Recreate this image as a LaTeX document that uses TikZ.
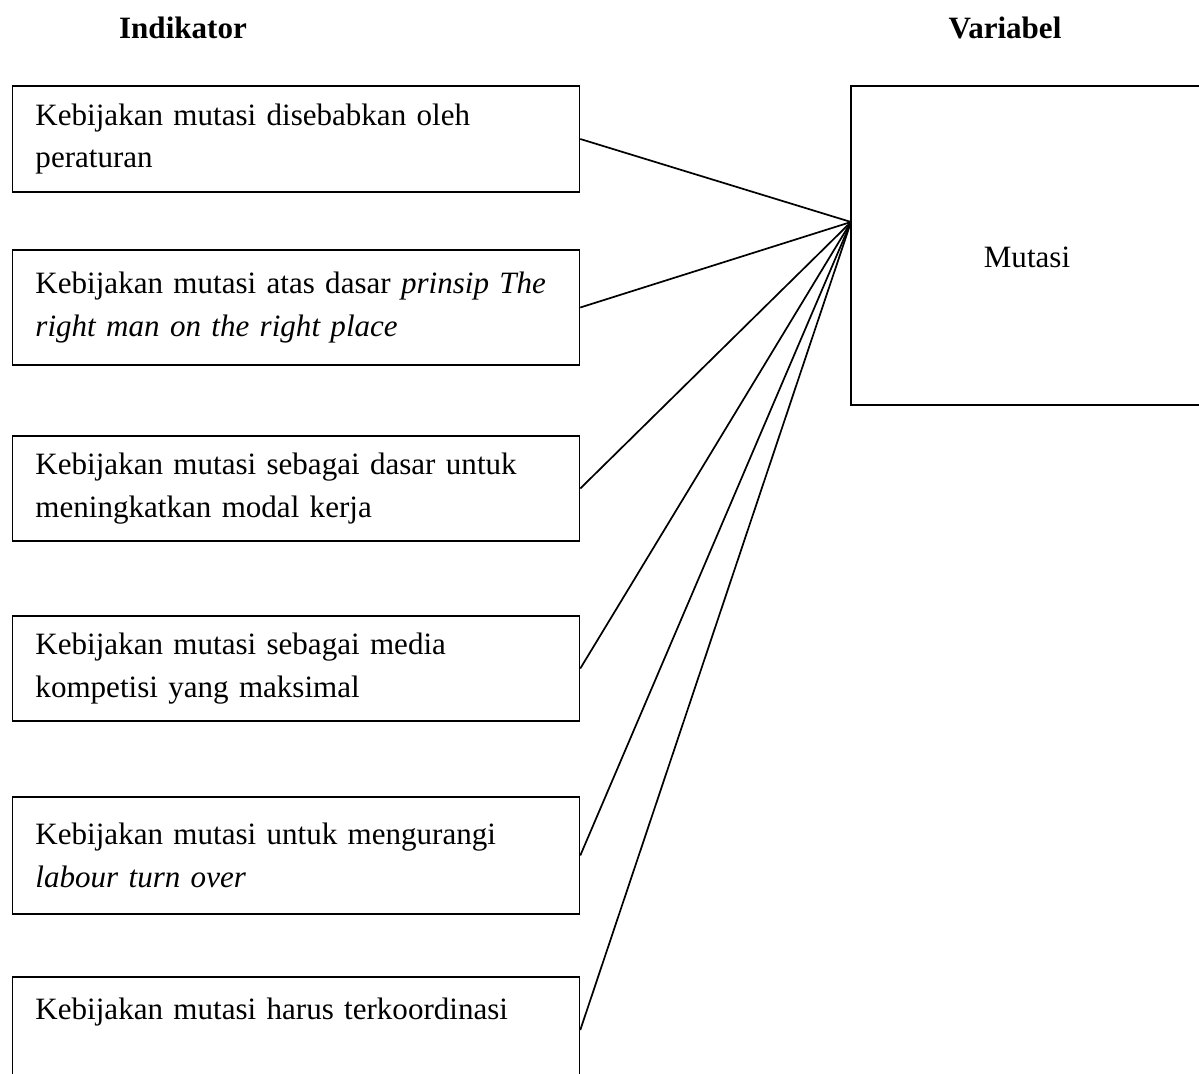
\documentclass[tikz,border=0pt]{standalone}
\usepackage{fontspec}
\setmainfont{Liberation Serif}
\usetikzlibrary{positioning}

\begin{document}
\begin{tikzpicture}[x=0.38pt, y=-0.38pt, line width=0.65pt,
    font=\fontsize{11.8pt}{16.3pt}\selectfont,
    ind/.style = {draw, text width=198pt, inner xsep=8.7pt, align=left},
    head/.style = {font=\fontsize{11.8pt}{16.3pt}\selectfont\bfseries}]
    \useasboundingbox (0,0) rectangle (1199,1073);
			\node[head] (h1) at (183,28) {Indikator};
			\node[head] (h2) at (1005,28) {Variabel};
			\node[ind, minimum height=40.3pt] (i1) at (296,139) {Kebijakan mutasi disebabkan oleh\\ peraturan};
			\node[ind, minimum height=43.7pt] (i2) at (296,307.5) {Kebijakan mutasi atas dasar \textit{prinsip The}\\ \textit{right man on the right place}};
			\node[ind, minimum height=39.9pt] (i3) at (296,488.5) {Kebijakan mutasi sebagai dasar untuk\\ meningkatkan modal kerja};
			\node[ind, minimum height=39.9pt] (i4) at (296,668.5) {Kebijakan mutasi sebagai media\\ kompetisi yang maksimal};
			\node[ind, minimum height=44.5pt] (i5) at (296,855.5) {Kebijakan mutasi untuk mengurangi\\ \textit{labour turn over}};
			\node[ind, minimum height=40.3pt] (i6) at (296,1030) {Kebijakan mutasi harus terkoordinasi\\ \mbox{}};
			\node[draw, minimum width=133.8pt, minimum height=121.2pt] (mutasi) at (1027,245.5) {};
			\node (mlabel) at (1027,257) {Mutasi};
			\coordinate (hub) at (851,222);
			\draw (i1.east) -- (hub);
			\draw (i2.east) -- (hub);
			\draw (i3.east) -- (hub);
			\draw (i4.east) -- (hub);
			\draw (i5.east) -- (hub);
			\draw (i6.east) -- (hub);
		\end{tikzpicture}
\end{document}
